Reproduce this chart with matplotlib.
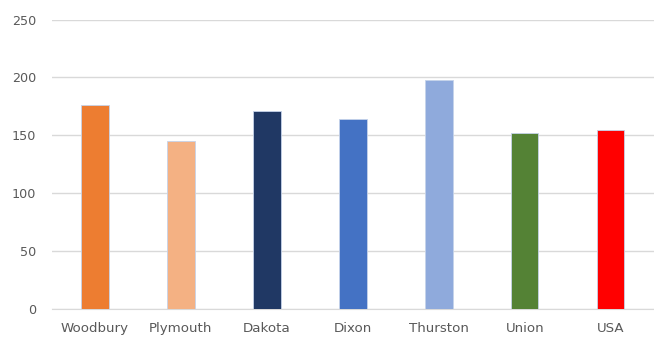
import matplotlib.pyplot as plt

# values
counties = ['Woodbury', 'Plymouth', 'Dakota', 'Dixon', 'Thurston', 'Union', 'USA']
values = [176, 145, 171, 164, 198, 152, 155]
colors = ['#ED7D31', '#F4B183', '#203864', '#4472C4', '#8FAADC', '#548235', '#FF0000']

fig = plt.figure(figsize=(6.54, 3.37), dpi=100)
ax = fig.add_axes([0.0795, 0.083, 0.92, 0.859])

ax.bar(range(len(counties)), values, width=0.32, color=colors,
       edgecolor='#c5d3ea', linewidth=0.6, zorder=3)

ax.set_ylim(0, 250)
ax.set_xlim(-0.5, len(counties) - 0.5)
ax.set_yticks(range(0, 251, 50))
ax.set_xticks(range(len(counties)))
ax.set_xticklabels(counties)

ax.grid(axis='y', color='#d9d9d9', linewidth=1, zorder=0)
for side in ['top', 'right', 'left']:
    ax.spines[side].set_visible(False)
ax.spines['bottom'].set_color('#d9d9d9')
ax.tick_params(length=0, colors='#595959')
ax.tick_params(axis='y', pad=11.5, labelsize=9.2)
ax.tick_params(axis='x', pad=9.5, labelsize=9.6)

fig.savefig('out.png', dpi=100)
